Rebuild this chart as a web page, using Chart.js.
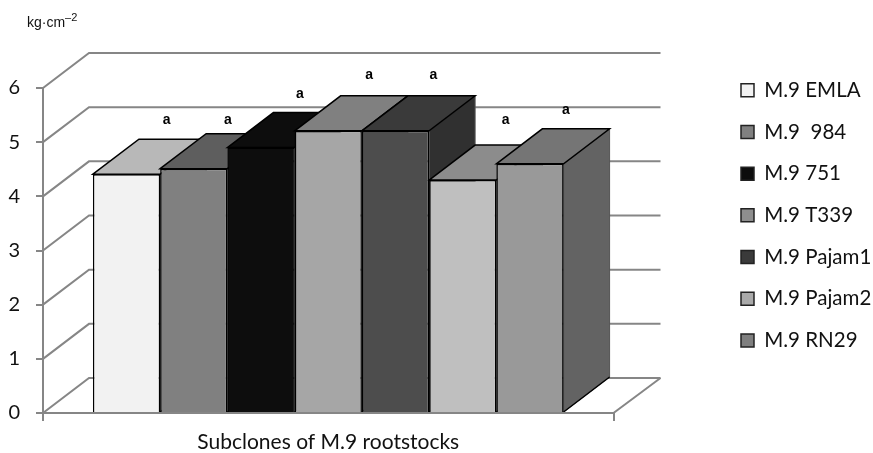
<!DOCTYPE html>
<html>
<head>
<meta charset="utf-8">
<script src="https://cdn.jsdelivr.net/npm/chart.js@4"></script>
<style>
html, body { margin: 0; padding: 0; background: #fff; }
canvas { display: block; }
</style>
</head>
<body>
<canvas id="myChart" width="873" height="453"></canvas>
<script>
var categories = ["Subclones of M.9 rootstocks"];
var subclones = ["M.9 EMLA", "M.9  984", "M.9 751", "M.9 T339", "M.9 Pajam1", "M.9 Pajam2", "M.9 RN29"];
var hardness = [4.41, 4.51, 4.9, 5.21, 5.21, 4.3, 4.6];
var letters = ["a", "a", "a", "a", "a", "a", "a"];
// height of each letter on the y axis
var letterValues = [5.41, 5.41, 5.89, 6.24, 6.24, 5.41, 5.6];
var yTicks = [0, 1, 2, 3, 4, 5, 6];

var frontColors = ['#f2f2f2', '#808080', '#0d0d0d', '#a6a6a6', '#4d4d4d', '#bfbfbf', '#999999'];
var topColors = ['#b8b8b8', '#5e5e5e', '#0d0d0d', '#808080', '#3a3a3a', '#8c8c8c', '#757575'];
var sideColors = ['#a0a0a0', '#4d4d4d', '#0a0a0a', '#666666', '#303030', '#777777', '#636363'];
var legendColors = ['#f2f2f2', '#808080', '#0d0d0d', '#8e8e8e', '#3a3a3a', '#aaaaaa', '#7f7f7f'];
var letterShift = [40, 34, 39, 41, 38, 43, 36];

var DEPTH_X = 46, DEPTH_Y = 35;
var GRID = '#868686';

function poly(ctx, pts) {
    ctx.beginPath();
    ctx.moveTo(pts[0][0], pts[0][1]);
    for (var i = 1; i < pts.length; i++) ctx.lineTo(pts[i][0], pts[i][1]);
    ctx.closePath();
}

var box3d = {
    id: 'box3d',
    afterLayout: function (chart) {
        // move the legend where the reference has it
        var lg = chart.legend;
        var p = lg.options.labels.padding;
        var w = lg.width, h = lg.height;
        lg.left = 741 - p; lg.right = lg.left + w;
        lg.top = 80 - p; lg.bottom = lg.top + h;
    },
    beforeDatasetsDraw: function (chart) {
        var ctx = chart.ctx, a = chart.chartArea, y = chart.scales.y;
        ctx.save();
        ctx.strokeStyle = GRID;
        ctx.lineWidth = 2;
        // back wall and side wall lines
        yTicks.forEach(function (t) {
            var py = y.getPixelForValue(t);
            ctx.beginPath();
            ctx.moveTo(a.left, py);
            ctx.lineTo(a.left + DEPTH_X, py - DEPTH_Y);
            ctx.lineTo(a.right + DEPTH_X + 1, py - DEPTH_Y);
            ctx.stroke();
        });
        // floor right edge
        ctx.beginPath();
        ctx.moveTo(a.right, a.bottom);
        ctx.lineTo(a.right + DEPTH_X + 1, a.bottom - DEPTH_Y);
        ctx.stroke();

        // top and side faces, left to right so later bars cover earlier sides
        hardness.forEach(function (v, i) {
            var bar = chart.getDatasetMeta(i).data[0];
            var l = bar.x - bar.width / 2, r = bar.x + bar.width / 2, t = bar.y, b = bar.base;
            poly(ctx, [[r, t], [r + DEPTH_X, t - DEPTH_Y], [r + DEPTH_X, b - DEPTH_Y], [r, b]]);
            ctx.fillStyle = sideColors[i];
            ctx.fill();
            ctx.strokeStyle = '#555';
            ctx.lineWidth = 1;
            ctx.stroke();
            ctx.strokeStyle = '#000';
            ctx.lineWidth = 1.5;
            ctx.beginPath();
            ctx.moveTo(r, b);
            ctx.lineTo(r + DEPTH_X, b - DEPTH_Y);
            ctx.stroke();
            poly(ctx, [[l, t], [l + DEPTH_X, t - DEPTH_Y], [r + DEPTH_X, t - DEPTH_Y], [r, t]]);
            ctx.fillStyle = topColors[i];
            ctx.fill();
            ctx.stroke();
        });
        ctx.restore();
    },
    afterDraw: function (chart) {
        var ctx = chart.ctx, y = chart.scales.y;
        ctx.save();
        ctx.fillStyle = '#000';
        ctx.textAlign = 'center';
        ctx.textBaseline = 'middle';
        ctx.font = 'bold 14px "Liberation Sans"';
        letters.forEach(function (s, i) {
            var bar = chart.getDatasetMeta(i).data[0];
            ctx.fillText(s, bar.x + letterShift[i], y.getPixelForValue(letterValues[i]));
        });
        // unit label with raised exponent
        ctx.textAlign = 'left';
        ctx.font = '14px "Liberation Sans"';
        ctx.fillStyle = '#111';
        ctx.fillText('kg·cm', 27, 23);
        var w = ctx.measureText('kg·cm').width;
        ctx.font = '11px "Liberation Sans"';
        ctx.fillText('–2', 27 + w, 18);
        ctx.restore();
    }
};

new Chart(document.getElementById('myChart'), {
    type: 'bar',
    data: {
        labels: categories,
        datasets: subclones.map(function (name, i) {
            return {
                label: name,
                data: [hardness[i]],
                backgroundColor: frontColors[i],
                borderColor: '#000',
                borderWidth: 1.5,
                barPercentage: 1,
                categoryPercentage: 0.825
            };
        })
    },
    options: {
        responsive: false,
        animation: false,
        layout: { padding: { left: 0, top: 88, right: 98, bottom: 0 } },
        plugins: {
            tooltip: { enabled: false },
            legend: {
                position: 'right',
                align: 'start',
                labels: {
                    boxWidth: 13,
                    boxHeight: 13,
                    padding: 21.2,
                    color: '#111',
                    font: { family: 'Lato', size: 20.5 },
                    generateLabels: function (chart) {
                        return subclones.map(function (name, i) {
                            return {
                                text: name,
                                fillStyle: legendColors[i],
                                strokeStyle: '#222',
                                lineWidth: 1.5,
                                datasetIndex: i,
                                fontColor: '#111'
                            };
                        });
                    }
                }
            }
        },
        scales: {
            x: {
                grid: { drawOnChartArea: false, color: GRID, lineWidth: 2, tickLength: 8, z: 1 },
                border: { color: GRID, width: 2, z: 1 },
                ticks: { display: false },
                title: {
                    display: true,
                    text: categories[0],
                    color: '#111',
                    font: { family: 'Lato', size: 21 },
                    padding: { top: 10, bottom: -2 }
                },
                afterFit: function (s) { s.height = 40; }
            },
            y: {
                min: 0,
                max: 6,
                afterBuildTicks: function (s) {
                    s.ticks = yTicks.map(function (t) { return { value: t }; });
                },
                grid: { drawOnChartArea: false, color: GRID, lineWidth: 2, tickLength: 7 },
                border: { color: GRID, width: 2 },
                ticks: {
                    color: '#111',
                    padding: 16,
                    font: { family: 'Lato', size: 20 }
                },
                afterFit: function (s) { s.width = 43; }
            }
        }
    },
    plugins: [box3d]
});
</script>
</body>
</html>
